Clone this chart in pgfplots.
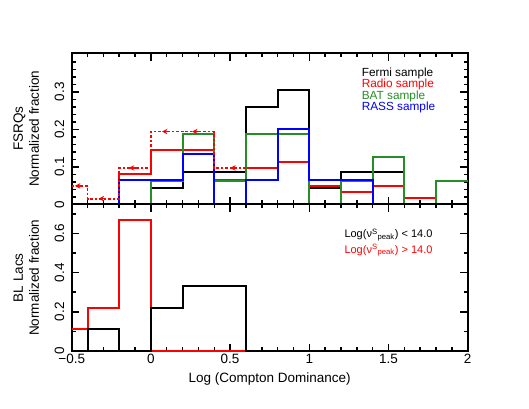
\documentclass[border=0pt]{standalone}
\usepackage{fontspec}
\setmainfont{Liberation Sans}
\usepackage{pgfplots}
\pgfplotsset{compat=1.18}
\usetikzlibrary{arrows.meta}
\definecolor{batgreen}{RGB}{40,140,40}
\pgfplotsset{
  cd/.style={
    scale only axis, width=396bp,
    xmin=-0.5, xmax=2, clip=false,
    axis line style={line width=1.9bp},
    tick align=inside, tick pos=both,
    every tick/.style={black,line width=1.5bp},
    major tick length=7.5bp, minor tick length=4bp,
    xtick={-0.5,0,0.5,1,1.5,2},
    minor xtick={-0.4,-0.3,-0.2,-0.1,0.1,0.2,0.3,0.4,0.6,0.7,0.8,0.9,1.1,1.2,1.3,1.4,1.6,1.7,1.8,1.9},
    tick label style={font=\fontsize{13.5bp}{16bp}\selectfont},
    label style={font=\fontsize{13.5bp}{16bp}\selectfont},
    yticklabel style={xshift=-4bp,rotate=90,anchor=south},
    ylabel style={align=center,at={(axis description cs:-0.1146,0.5)},anchor=center},
  },
  hist/.style={const plot,line width=2bp,mark=none},
  ulim/.style={const plot,red,line width=1.8bp,dash pattern=on 2.5bp off 2bp},
}
\begin{document}
\begin{tikzpicture}
\useasboundingbox (0,0) rectangle (529bp,409bp);

% ---- FSRQs ----
\begin{axis}[cd,
  at={(71.7bp,204.7bp)}, anchor=south west, height=151bp,
  ymin=0, ymax=0.4027,
  ytick={0,0.1,0.2,0.3}, yticklabels={0,0.1,0.2,0.3},
  minor ytick={0.02,0.04,0.06,0.08,0.12,0.14,0.16,0.18,0.22,0.24,0.26,0.28,0.32,0.34,0.36,0.38},
  xticklabels={},
  ylabel={FSRQs\\Normalized fraction},
]
  % Fermi
  \addplot[hist,black] coordinates {(-0.5,0) (0,0.043) (0.2,0.087) (0.4,0.087) (0.6,0.26) (0.8,0.304) (1.0,0.043) (1.2,0.087) (1.4,0.087) (1.6,0) (2.0,0)};
  % Radio
  \addplot[hist,red] coordinates {(-0.5,0) (-0.2,0.082) (0,0.145) (0.2,0.145) (0.4,0.064) (0.6,0.096) (0.8,0.114) (1.0,0.049) (1.2,0.032) (1.4,0.05) (1.6,0.016) (1.8,0) (2.0,0)};
  % BAT
  \addplot[hist,batgreen] coordinates {(-0.5,0) (0,0.062) (0.2,0.188) (0.4,0.062) (0.6,0.188) (0.8,0.188) (1.0,0) (1.2,0.063) (1.4,0.127) (1.6,0) (1.8,0.063) (2.0,0.063)};
  % RASS
  \addplot[hist,blue] coordinates {(-0.5,0) (-0.2,0.066) (0,0.066) (0.2,0.134) (0.4,0) (0.6,0.066) (0.8,0.2) (1.0,0.066) (1.2,0.066) (1.4,0) (2.0,0)};
  % Radio upper limits
  \addplot[ulim] coordinates {(-0.5,0.049) (-0.4,0.015) (-0.2,0.097) (0,0.194) (0.2,0.194) (0.4,0.097) (0.6,0.097)};
  \addplot[red,line width=1.3bp,-{Stealth[length=5.5bp,width=5.5bp]},quiver={u=-0.045,v=0}] coordinates {(-0.435,0.049) (-0.285,0.015) (-0.095,0.097) (0.115,0.194) (0.305,0.194) (0.545,0.097)};
  \node[anchor=base west,font=\fontsize{11.8bp}{14bp}\selectfont,text=black] at (axis description cs:0.7237,0.8464) {Fermi sample};
  \node[anchor=base west,font=\fontsize{11.8bp}{14bp}\selectfont,text=red] at (axis description cs:0.7237,0.7709) {Radio sample};
  \node[anchor=base west,font=\fontsize{11.8bp}{14bp}\selectfont,text=batgreen] at (axis description cs:0.7237,0.6954) {BAT sample};
  \node[anchor=base west,font=\fontsize{11.8bp}{14bp}\selectfont,text=blue] at (axis description cs:0.7237,0.6199) {RASS sample};
\end{axis}

% ---- BL Lacs ----
\begin{axis}[cd,
  at={(71.7bp,58bp)}, anchor=south west, height=146.7bp,
  ymin=0, ymax=0.749,
  ytick={0,0.2,0.4,0.6}, yticklabels={0,0.2,0.4,0.6},
  minor ytick={0.1,0.3,0.5,0.7},
  xticklabels={−0.5,0,0.5,1,1.5,2},
  ylabel={BL Lacs\\Normalized fraction},
  xlabel={Log (Compton Dominance)},
  xlabel style={at={(axis description cs:0.5,-0.191)},anchor=center},
]
  \addplot[hist,red] coordinates {(-0.5,0.111) (-0.4,0.222) (-0.2,0.667) (0,0) (2.0,0)};
  \addplot[hist,black] coordinates {(-0.5,0) (-0.4,0.111) (-0.2,0) (0,0.222) (0.2,0.333) (0.6,0) (2.0,0)};
  \node[anchor=base west,font=\fontsize{11bp}{13bp}\selectfont,text=black] at (axis description cs:0.680,0.7703) {Log(ν\textsuperscript{S}\textsubscript{peak}) < 14.0};
  \node[anchor=base west,font=\fontsize{11bp}{13bp}\selectfont,text=red] at (axis description cs:0.680,0.668) {Log(ν\textsuperscript{S}\textsubscript{peak}) > 14.0};
\end{axis}
\end{tikzpicture}
\end{document}
